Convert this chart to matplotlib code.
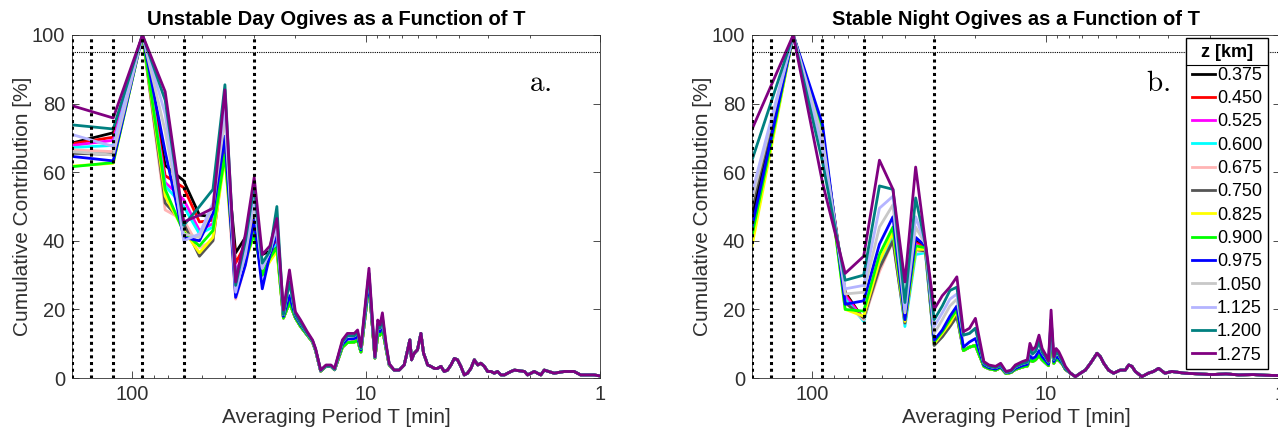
import matplotlib.pyplot as plt

plt.rcParams['font.family'] = ['Liberation Sans', 'DejaVu Sans']

heights = ['0.375', '0.450', '0.525', '0.600', '0.675', '0.750', '0.825',
           '0.900', '0.975', '1.050', '1.125', '1.200', '1.275']
colors = ['#000000', '#ff0000', '#ff00ff', '#00ffff', '#ffb4b4', '#555555', '#ffff00',
          '#00ff00', '#0000ff', '#c8c8c8', '#b4b4ff', '#008080', '#800080']
# which shared mid-range curve each height uses (0 low, 1 blue, 2 light, 3 top)
mid_group = [0, 0, 0, 0, 0, 0, 0, 0, 1, 2, 2, 2, 3]

marker_T = [180, 150, 120, 90, 60, 30]

# ---- long periods, one list per height
T_head = [180, 120, 90, 72, 60, 51.4, 45, 40, 36, 32.7, 30, 27.7, 25.7, 24]

day_head = [
    [68.5, 71.5, 100, 62, 57.5, 47.5, 47, 70, 36.5, 41, 47, 36, 37, 40],
    [68.3, 70.2, 100, 59, 55.5, 45.5, 46, 69, 33.5, 39, 46, 33, 36.5, 40],
    [67.8, 69.3, 100, 57, 52, 43, 45, 68, 31, 37, 45, 31, 35, 39],
    [67.2, 67.8, 100, 56, 50, 42, 44, 68, 30, 36, 44.5, 31, 36, 39],
    [66.5, 66.0, 100, 49, 46, 38, 40, 66, 23, 33, 43, 30, 36, 38],
    [65.5, 65.2, 100, 51, 45, 35.5, 40, 67, 29, 35, 43, 31, 36.5, 38],
    [61.8, 62.6, 100, 53, 43, 36.5, 41, 64, 28, 34, 42, 30, 34, 37],
    [61.6, 62.8, 100, 55, 42.5, 38.5, 43, 65, 29, 34.5, 42, 30, 35, 38],
    [64.6, 63.3, 100, 66, 41, 40, 48, 70.5, 23.5, 33, 46, 26, 36, 42],
    [66.0, 65.0, 100, 72, 42, 41, 50, 76, 26, 36, 51, 32, 37, 44],
    [71.0, 67.5, 100, 77, 40, 42, 51, 80, 25, 37, 53, 32, 37, 45],
    [73.8, 72.6, 100, 81, 44.5, 50, 55, 85.5, 27, 40, 56, 33.5, 37, 50],
    [79.4, 75.8, 100, 83.5, 45.5, 47.5, 49.5, 84, 28, 42, 58.5, 36, 38.5, 46.5],
]

night_head = [
    [47, 100, 71, 25, 17, 33, 41, 17, 40, 38, 10, 13, 16, 19],
    [42, 100, 71, 24.5, 17, 33, 41, 17, 39.5, 38, 10, 13, 16, 19],
    [41, 100, 71, 24, 17, 33, 41, 16.5, 39, 37.5, 10, 12.5, 15.5, 18.5],
    [40, 100, 72, 23, 16.5, 33, 41, 15, 36, 36.5, 9.5, 12, 15, 18],
    [40.5, 100, 71, 22, 17, 31, 40, 16, 37, 37, 9.5, 12, 15, 18],
    [50, 100, 70, 22, 17.5, 32, 40, 16, 37.5, 37, 9.5, 12, 15, 18],
    [38.5, 100, 72, 20, 18, 34, 42.5, 16.5, 37.5, 37.5, 10, 13, 16, 19.5],
    [41.5, 100, 72, 20, 19.5, 36, 44, 17, 38.5, 38, 10.5, 13.5, 17, 20],
    [44, 100, 74, 21.5, 22.5, 39, 47, 17, 41, 38.5, 11, 14, 18, 21],
    [52, 100, 70, 24.5, 25, 44, 50.5, 19, 44, 39, 13, 17, 21, 23],
    [54, 100, 67, 26, 27, 49.5, 53, 20, 47, 39, 15, 19, 23, 24.5],
    [63.5, 100, 63, 28.5, 30, 56, 55, 22, 52.5, 39, 17, 21, 25.5, 26.5],
    [72.5, 100, 57, 30.5, 35.5, 63.5, 55, 28, 61.5, 39.5, 20, 24, 26.5, 29.5],
]

# ---- middle periods, shared by groups of heights
day_T_mid = [22.5, 21.2, 20.0, 19.0, 17.8, 16.9, 16.4, 15.6, 14.8, 14.1, 13.6, 12.6,
             12.0, 11.2, 10.85, 10.5, 9.7, 9.15, 8.9, 8.7, 8.5, 8.2, 7.95]
day_mid = [
    [17.5, 22, 17.5, 15, 12.5, 10.5, 8, 2.0, 3.4, 3.4, 2.4, 9.0, 10.3, 10.5, 11, 7.6,
     27.5, 5.8, 12.5, 12.5, 14.5, 8.5, 3.8],
    [18, 24, 18, 15.5, 12.8, 10.8, 8.2, 2.1, 3.5, 3.5, 2.5, 9.8, 11.3, 11.5, 12, 8.2,
     28.5, 6, 14, 13.5, 16, 9, 4],
    [18.5, 28, 18.5, 16, 13, 10.8, 8.3, 2.2, 3.6, 3.6, 2.6, 10.5, 12.3, 12.3, 13.2, 8.6,
     30.5, 6, 15.5, 14.5, 17.5, 9.5, 4],
    [19.8, 31.5, 19.3, 16.9, 13.5, 11.1, 8.6, 2.3, 3.8, 3.8, 2.8, 11.1, 13.0, 13.0, 14.0, 9.1,
     32.0, 6.2, 16.9, 15.5, 19.0, 10.0, 4.2],
]

night_T_mid = [22.5, 21.2, 20.0, 18.4, 17.5, 16.4, 15.6, 14.8, 14.1, 13.5, 12.6, 12.0,
               11.7, 11.4, 11.07, 10.7, 10.37, 10.0, 9.75, 9.5, 9.25, 9.04, 8.81, 8.53, 8.25]
night_mid = [
    [8, 9, 9.5, 3.4, 2.7, 2.3, 3, 1.3, 1.6, 2.5, 3.2, 3.5, 5.5, 4.8, 5.3, 6.5, 5.3, 4.3,
     3.6, 12, 4.3, 5.5, 5.2, 4.2, 2.5],
    [9, 10.5, 11.5, 3.8, 3, 2.6, 3.3, 1.5, 1.8, 2.8, 3.6, 4, 6.5, 5.7, 6.2, 8, 6.2, 5,
     4, 14, 4.8, 6.2, 5.8, 4.5, 2.7],
    [12.5, 13, 14.5, 4.3, 3.4, 3, 3.8, 1.7, 2, 3.3, 4.2, 4.6, 8.5, 7, 7.8, 10.5, 7.5, 6,
     4.7, 17, 5.5, 7.5, 6.8, 5, 3],
    [13.5, 14.5, 17.4, 4.8, 3.8, 3.4, 4.3, 1.9, 2.3, 3.8, 4.8, 5.3, 10.1, 8.2, 9.1, 12.5,
     8.6, 6.7, 5.0, 19.8, 6.2, 8.6, 7.7, 5.7, 3.4],
]

# ---- short periods, common to all heights
day_T_tail = [7.57, 7.21, 6.86, 6.63, 6.49, 6.38, 6.22, 6.02, 5.82, 5.67, 5.54, 5.45,
              5.28, 5.1, 4.94, 4.78, 4.63, 4.48, 4.33, 4.19, 4.06, 3.93, 3.8, 3.68,
              3.56, 3.44, 3.33, 3.23, 3.12, 3.02, 2.92, 2.83, 2.74, 2.65, 2.56, 2.4,
              2.32, 2.1, 2.04, 1.97, 1.91, 1.79, 1.73, 1.57, 1.42, 1.29, 1.21, 1.06, 1.0]
day_tail = [2.3, 2.3, 3.8, 8.2, 11.1, 5.3, 7.2, 8.2, 13.0, 7.2, 5.3, 3.8,
            3.4, 2.8, 2.8, 3.4, 1.9, 2.3, 3.8, 5.7, 5.3, 3.4, 0.9, 1.4,
            2.8, 5.3, 3.8, 4.3, 3.4, 1.9, 1.9, 1.4, 1.9, 0.9, 0.9, 1.9,
            2.3, 1.9, 0.9, 1.4, 1.9, 0.9, 2.3, 1.4, 1.9, 1.9, 0.9, 0.9, 0.6]

night_T_tail = [7.85, 7.48, 7.12, 6.78, 6.45, 6.25, 6.05, 5.85, 5.66, 5.4, 5.14, 4.81,
                4.58, 4.43, 4.29, 4.15, 3.89, 3.65, 3.47, 3.3, 3.1, 2.9, 2.55, 2.23,
                1.95, 1.7, 1.5, 1.3, 1.15, 1.0]
night_tail = [1.4, 0.4, 1.4, 2.3, 4.3, 5.7, 7.2, 6.2, 4.3, 2.3, 1.4, 2.3,
              2.3, 3.8, 3.4, 1.9, 0.4, 1.4, 1.9, 2.8, 1.4, 1.9, 1.4, 1.2,
              1.0, 1.2, 0.9, 1.0, 0.8, 0.7]

fig = plt.figure(figsize=(12.78, 4.38), dpi=100)
ax1 = fig.add_axes([72 / 1278, 60 / 438, 528 / 1278, 343 / 438])
ax2 = fig.add_axes([752 / 1278, 60 / 438, 528 / 1278, 343 / 438])

panels = [
    (ax1, 'Unstable Day Ogives as a Function of T', 'a.', 0.886,
     day_head, day_T_mid, day_mid, day_T_tail, day_tail),
    (ax2, 'Stable Night Ogives as a Function of T', 'b.', 0.769,
     night_head, night_T_mid, night_mid, night_T_tail, night_tail),
]

axcol = '#303030'
for ax, title, tag, tag_x, head, T_mid, mid, T_tail, tail in panels:
    for i in range(len(heights)):
        T = T_head + T_mid + T_tail
        vals = head[i] + mid[mid_group[i]] + tail
        ax.plot(T, vals, color=colors[i], lw=2.0, label=heights[i], zorder=2)
    for t in marker_T:
        ax.plot([t, t], [0, 100], color='black', ls=(0, (1, 1.2)), lw=2.2, zorder=3)
    ax.axhline(95, color='black', ls=(0, (1, 1)), lw=0.8, zorder=3)

    ax.set_xscale('log')
    ax.set_xlim(180, 1)
    ax.set_ylim(0, 100)
    ax.set_xticks([100, 10, 1])
    ax.set_xticklabels(['100', '10', '1'])
    ax.set_yticks([0, 20, 40, 60, 80, 100])
    ax.tick_params(which='both', direction='in', top=True, right=True,
                   colors=axcol, labelsize=14.5, width=0.6)
    ax.tick_params(which='major', length=5, pad=5)
    ax.tick_params(which='minor', length=2.5)
    for s in ax.spines.values():
        s.set_color(axcol)
        s.set_linewidth(0.6)
    ax.set_title(title, fontsize=14.5, fontweight='bold', pad=7)
    ax.set_xlabel('Averaging Period T [min]', fontsize=15, color=axcol, labelpad=3)
    ax.set_ylabel('Cumulative Contribution [%]', fontsize=15, color=axcol, labelpad=0)
    ax.text(tag_x, 0.86, r'$\mathrm{' + tag + '}$', transform=ax.transAxes,
            fontsize=21, ha='center', va='center', math_fontfamily='cm')

leg = ax2.legend(loc='upper right', bbox_to_anchor=(0.977, 0.991), borderaxespad=0,
                 title='z [km]', title_fontproperties={'weight': 'bold', 'size': 13},
                 fontsize=13, handlelength=1.3, handletextpad=0.1, labelspacing=0.35,
                 borderpad=0.3, fancybox=False, framealpha=1, edgecolor='black')
leg.get_frame().set_linewidth(1.0)
leg.set_zorder(5)

fig.canvas.draw()
fb = leg.get_frame().get_window_extent()
tb = leg.get_title().get_window_extent()
ysep = (tb.y0 - 4) / fig.bbox.height
fig.add_artist(plt.Line2D([fb.x0 / fig.bbox.width, fb.x1 / fig.bbox.width], [ysep, ysep],
                          color='black', lw=0.8, zorder=6))

fig.savefig('out.png', dpi=100)
